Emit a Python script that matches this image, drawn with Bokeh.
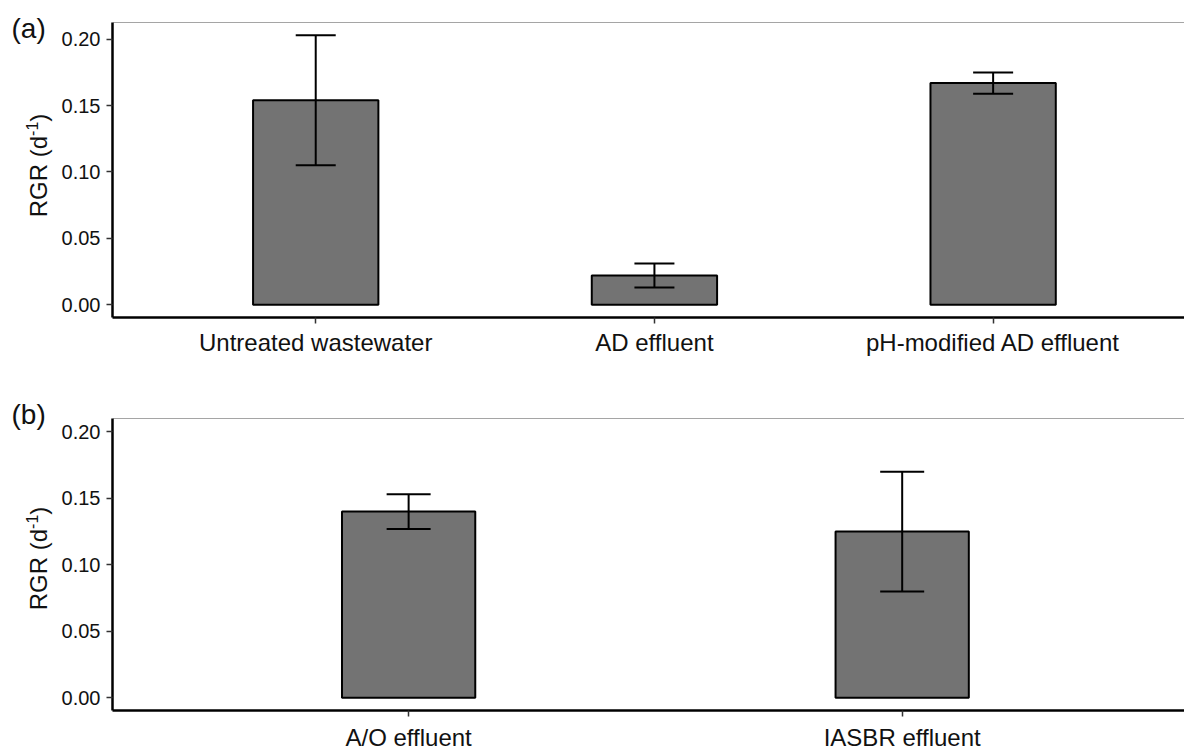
import math

from bokeh.embed import file_html
from bokeh.layouts import column, row
from bokeh.models import (ColumnDataSource, FixedTicker, Label, NumeralTickFormatter,
                          Range1d, Span, TeeHead, Whisker)
from bokeh.plotting import figure
from bokeh.resources import INLINE

# Relative growth rate (mean ± SD) per medium
groups_a = ["Untreated wastewater", "AD effluent", "pH-modified AD effluent"]
rgr_a = [0.154, 0.022, 0.167]
sd_a = [0.049, 0.009, 0.008]

groups_b = ["A/O effluent", "IASBR effluent"]
rgr_b = [0.140, 0.125]
sd_b = [0.013, 0.045]

y_ticks = [0.00, 0.05, 0.10, 0.15, 0.20]

FONT = "Liberation Sans"
TEXT = "#111111"
BAR_FILL = "#737373"
STRIP_W = 56          # left strip holding the panel tag and the y title
FRAME_LEFT = 112
TOTAL_W = 1184


def title_strip(tag, height, title_mid, tag_mid):
    """Narrow figure with the panel tag and the rotated 'RGR (d-1)' title.
    Its data units are pixels, y counted from the top."""
    s = figure(width=STRIP_W, height=height, output_backend="svg", toolbar_location=None,
               x_range=Range1d(0, STRIP_W), y_range=Range1d(height, 0),
               x_axis_type=None, y_axis_type=None,
               min_border_left=0, min_border_right=0, min_border_top=0, min_border_bottom=0)
    s.grid.visible = False
    s.outline_line_color = None

    fs, fs_sup = 24, 16
    w_main = 3.389 * fs
    w_sup = 0.889 * fs_sup
    w_close = 0.333 * fs
    start = title_mid + (w_main + w_sup + w_close) / 2
    common = dict(angle=math.pi / 2, text_font=FONT, text_color=TEXT,
                  text_align="left", text_baseline="middle")
    s.add_layout(Label(x=38, y=start, text="RGR (d", text_font_size=f"{fs}px", **common))
    s.add_layout(Label(x=31, y=start - w_main, text="-1",
                       text_font_size=f"{fs_sup}px", **common))
    s.add_layout(Label(x=38, y=start - w_main - w_sup, text=")",
                       text_font_size=f"{fs}px", **common))

    s.add_layout(Label(x=11, y=tag_mid, text=tag, text_font=FONT, text_font_size="28px",
                       text_color=TEXT, text_align="left", text_baseline="middle"))
    return s


def rgr_panel(groups, means, sds, height, border_top, border_bottom, bar_width, cap,
              x_end, y_start, y_end, label_standoff):
    xs = list(range(len(groups)))
    src = ColumnDataSource(dict(
        x=xs,
        top=means,
        upper=[m + s for m, s in zip(means, sds)],
        lower=[m - s for m, s in zip(means, sds)],
    ))

    p = figure(width=TOTAL_W - STRIP_W, height=height, output_backend="svg",
               toolbar_location=None, x_range=(-0.6, x_end), y_range=(y_start, y_end),
               min_border_left=FRAME_LEFT - STRIP_W, min_border_right=0,
               min_border_top=border_top, min_border_bottom=border_bottom)

    p.vbar(x="x", top="top", bottom=0, width=bar_width, source=src,
           fill_color=BAR_FILL, line_color="black", line_width=2)

    err = Whisker(base="x", upper="upper", lower="lower", source=src,
                  line_color="black", line_width=2, level="overlay",
                  upper_head=TeeHead(size=cap, line_color="black", line_width=2),
                  lower_head=TeeHead(size=cap, line_color="black", line_width=2))
    p.add_layout(err)

    p.grid.visible = False
    p.outline_line_color = None
    p.add_layout(Span(location=y_end, dimension="width",
                      line_color="#4d4d4d", line_width=1.2))

    p.xaxis.ticker = FixedTicker(ticks=xs)
    p.xaxis.major_label_overrides = {i: g for i, g in enumerate(groups)}
    p.yaxis.ticker = FixedTicker(ticks=y_ticks)
    p.yaxis.formatter = NumeralTickFormatter(format="0.00")

    for ax in (p.xaxis, p.yaxis):
        ax.axis_line_color = "black"
        ax.axis_line_width = 2.5
        ax.major_tick_line_color = "#333333"
        ax.major_tick_line_width = 1.5
        ax.major_tick_out = 6
        ax.major_tick_in = 0
        ax.minor_tick_line_color = None
        ax.major_label_text_font = FONT
        ax.major_label_text_color = TEXT

    p.yaxis.major_label_text_font_size = "20px"
    p.yaxis.major_label_standoff = 6
    p.xaxis.major_label_text_font_size = "24px"
    p.xaxis.major_label_standoff = label_standoff
    return p


sa = title_strip("(a)", 390, title_mid=165, tag_mid=28)
pa = rgr_panel(groups_a, rgr_a, sd_a, height=390, border_top=22, border_bottom=73,
               bar_width=0.37, cap=40, x_end=2.565, y_start=-0.0096, y_end=0.2126,
               label_standoff=5)

sb = title_strip("(b)", 363, title_mid=168, tag_mid=24)
pb = rgr_panel(groups_b, rgr_b, sd_b, height=363, border_top=28, border_bottom=40,
               bar_width=0.27, cap=44, x_end=1.572, y_start=-0.0095, y_end=0.2100,
               label_standoff=7)

# the strips sit in their own columns so their frames keep the full strip height
layout = column(row(column(sa), pa, spacing=0), row(column(sb), pb, spacing=0), spacing=0)
open("out.html", "w").write(file_html(layout, INLINE))
